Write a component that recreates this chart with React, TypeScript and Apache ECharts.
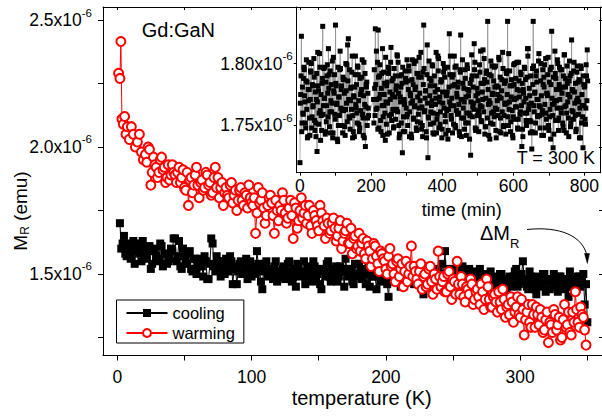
import React, { useEffect, useRef } from 'react';
import * as echarts from 'echarts';

const FONT = 'Liberation Sans, Arial, Helvetica, sans-serif';

// ---- main plot: remanent moment M_R (in units of 1e-6 emu) vs temperature (K)
// cooling run, even temperatures
const coolingT = [
  2, 4, 6, 8, 10, 12, 14, 16, 18, 20,
  22, 24, 26, 28, 30, 32, 34, 36, 38, 40,
  42, 44, 46, 48, 50, 52, 54, 56, 58, 60,
  62, 64, 66, 68, 70, 72, 74, 76, 78, 80,
  82, 84, 86, 88, 90, 92, 94, 96, 98, 100,
  102, 104, 106, 108, 110, 112, 114, 116, 118, 120,
  122, 124, 126, 128, 130, 132, 134, 136, 138, 140,
  142, 144, 146, 148, 150, 152, 154, 156, 158, 160,
  162, 164, 166, 168, 170, 172, 174, 176, 178, 180,
  182, 184, 186, 188, 190, 192, 194, 196, 198, 200,
  202, 204, 206, 208, 210, 212, 214, 216, 218, 220,
  222, 224, 226, 228, 230, 232, 234, 236, 238, 240,
  242, 244, 246, 248, 250, 252, 254, 256, 258, 260,
  262, 264, 266, 268, 270, 272, 274, 276, 278, 280,
  282, 284, 286, 288, 290, 292, 294, 296, 298, 300,
  302, 304, 306, 308, 310, 312, 314, 316, 318, 320,
  322, 324, 326, 328, 330, 332, 334, 336, 338, 340,
  342, 344, 346, 348, 350,
];
const coolingM = [
  1.70, 1.62, 1.58, 1.61, 1.56, 1.63, 1.59, 1.62, 1.55, 1.60,
  1.57, 1.61, 1.54, 1.59, 1.56, 1.62, 1.53, 1.58, 1.55, 1.60,
  1.64, 1.55, 1.63, 1.52, 1.57, 1.54, 1.59, 1.51, 1.56, 1.53,
  1.56, 1.49, 1.55, 1.48, 1.64, 1.53, 1.57, 1.52, 1.55, 1.50,
  1.54, 1.57, 1.46, 1.53, 1.51, 1.55, 1.50, 1.56, 1.52, 1.49,
  1.53, 1.59, 1.51, 1.44, 1.54, 1.50, 1.52, 1.48, 1.55, 1.51,
  1.49, 1.53, 1.50, 1.55, 1.47, 1.52, 1.54, 1.49, 1.51, 1.46,
  1.53, 1.50, 1.55, 1.48, 1.52, 1.44, 1.51, 1.54, 1.49, 1.52,
  1.50, 1.47, 1.53, 1.51, 1.56, 1.49, 1.52, 1.46, 1.50, 1.54,
  1.48, 1.52, 1.50, 1.45, 1.53, 1.49, 1.51, 1.47, 1.52, 1.50,
  1.41, 1.49, 1.53, 1.48, 1.51, 1.46, 1.50, 1.54, 1.47, 1.52,
  1.49, 1.51, 1.46, 1.42, 1.50, 1.53, 1.48, 1.52, 1.47, 1.50,
  1.54, 1.59, 1.49, 1.46, 1.52, 1.48, 1.51, 1.45, 1.50, 1.47,
  1.52, 1.48, 1.45, 1.50, 1.52, 1.47, 1.43, 1.49, 1.51, 1.46,
  1.48, 1.44, 1.50, 1.47, 1.42, 1.49, 1.46, 1.51, 1.45, 1.48,
  1.55, 1.47, 1.44, 1.49, 1.46, 1.42, 1.48, 1.45, 1.50, 1.47,
  1.44, 1.48, 1.46, 1.43, 1.49, 1.47, 1.45, 1.41, 1.48, 1.46,
  1.44, 1.49, 1.47, 1.38, 1.31,
];
// cooling run, odd temperatures
const coolingOddT = [
  3, 5, 7, 9, 11, 13, 15, 17, 19, 21,
  23, 25, 27, 29, 31, 33, 35, 37, 39, 41,
  43, 45, 47, 49, 51, 53, 55, 57, 59, 61,
  63, 65, 67, 69, 71, 73, 75, 77, 79, 81,
  83, 85, 87, 89, 91, 93, 95, 97, 99, 101,
  103, 105, 107, 109, 111, 113, 115, 117, 119, 121,
  123, 125, 127, 129, 131, 133, 135, 137, 139, 141,
  143, 145, 147, 149, 151, 153, 155, 157, 159, 161,
  163, 165, 167, 169, 171, 173, 175, 177, 179, 181,
  183, 185, 187, 189, 191, 193, 195, 197, 199, 201,
  203, 205, 207, 209, 211, 213, 215, 217, 219, 221,
  223, 225, 227, 229, 231, 233, 235, 237, 239, 241,
  243, 245, 247, 249, 251, 253, 255, 257, 259, 261,
  263, 265, 267, 269, 271, 273, 275, 277, 279, 281,
  283, 285, 287, 289, 291, 293, 295, 297, 299, 301,
  303, 305, 307, 309, 311, 313, 315, 317, 319, 321,
  323, 325, 327, 329, 331, 333, 335, 337, 339, 341,
  343, 345, 347, 349,
];
const coolingOddM = [
  1.60, 1.65, 1.57, 1.62, 1.59, 1.54, 1.61, 1.58, 1.63, 1.56,
  1.59, 1.52, 1.60, 1.57, 1.55, 1.61, 1.58, 1.54, 1.56, 1.59,
  1.64, 1.57, 1.53, 1.60, 1.55, 1.58, 1.52, 1.56, 1.50, 1.55,
  1.53, 1.57, 1.48, 1.54, 1.62, 1.51, 1.55, 1.49, 1.53, 1.56,
  1.51, 1.55, 1.52, 1.46, 1.54, 1.50, 1.53, 1.48, 1.55, 1.52,
  1.50, 1.54, 1.47, 1.52, 1.55, 1.49, 1.51, 1.53, 1.47, 1.50,
  1.52, 1.48, 1.54, 1.51, 1.49, 1.45, 1.53, 1.50, 1.55, 1.49,
  1.51, 1.47, 1.53, 1.50, 1.46, 1.52, 1.49, 1.55, 1.47, 1.51,
  1.53, 1.49, 1.51, 1.45, 1.52, 1.50, 1.47, 1.54, 1.49, 1.51,
  1.50, 1.46, 1.53, 1.49, 1.51, 1.44, 1.50, 1.52, 1.48, 1.46,
  1.50, 1.47, 1.52, 1.49, 1.45, 1.51, 1.48, 1.53, 1.50, 1.46,
  1.51, 1.48, 1.44, 1.50, 1.47, 1.52, 1.49, 1.45, 1.51, 1.48,
  1.50, 1.47, 1.52, 1.49, 1.46, 1.51, 1.48, 1.53, 1.45, 1.49,
  1.47, 1.51, 1.48, 1.44, 1.49, 1.46, 1.50, 1.47, 1.45, 1.49,
  1.46, 1.50, 1.47, 1.43, 1.48, 1.45, 1.49, 1.52, 1.46, 1.50,
  1.48, 1.45, 1.51, 1.47, 1.44, 1.49, 1.46, 1.50, 1.43, 1.48,
  1.47, 1.50, 1.45, 1.49, 1.46, 1.44, 1.48, 1.51, 1.45, 1.47,
  1.49, 1.45, 1.50, 1.46,
];
// warming run, odd temperatures (plus the lowest-T points)
const warmingT = [
  1, 2, 2.7, 3.5, 4.5, 5.5, 6.5, 7.5, 9, 10.5, 12, 13.5, 15, 16.5, 18, 19.5,
  21, 23, 25, 27, 29, 31, 33, 35, 37, 39,
  41, 43, 45, 47, 49, 51, 53, 55, 57, 59,
  61, 63, 65, 67, 69, 71, 73, 75, 77, 79,
  81, 83, 85, 87, 89, 91, 93, 95, 97, 99,
  101, 103, 105, 107, 109, 111, 113, 115, 117, 119,
  121, 123, 125, 127, 129, 131, 133, 135, 137, 139,
  141, 143, 145, 147, 149, 151, 153, 155, 157, 159,
  161, 163, 165, 167, 169, 171, 173, 175, 177, 179,
  181, 183, 185, 187, 189, 191, 193, 195, 197, 199,
  201, 203, 205, 207, 209, 211, 213, 215, 217, 219,
  221, 223, 225, 227, 229, 231, 233, 235, 237, 239,
  241, 243, 245, 247, 249, 251, 253, 255, 257, 259,
  261, 263, 265, 267, 269, 271, 273, 275, 277, 279,
  281, 283, 285, 287, 289, 291, 293, 295, 297, 299,
  301, 303, 305, 307, 309, 311, 313, 315, 317, 319,
  321, 323, 325, 327, 329, 331, 333, 335, 337, 339,
  341, 343, 345, 347, 349,
];
const warmingM = [
  2.29, 2.27, 2.415, 2.11, 2.09, 2.12, 2.05, 2.08, 2.03, 2.08, 2.05, 2.00, 2.02, 2.05, 1.98, 1.95,
  1.97, 2.00, 1.85, 1.96, 1.92, 1.90, 1.96, 1.92, 1.88, 1.87,
  1.93, 1.89, 1.90, 1.86, 1.91, 1.83, 1.77, 1.88, 1.85, 1.92,
  1.80, 1.87, 1.84, 1.89, 1.86, 1.82, 1.92, 1.88, 1.84, 1.77,
  1.84, 1.80, 1.86, 1.81, 1.75, 1.83, 1.79, 1.82, 1.76, 1.80,
  1.77, 1.66, 1.84, 1.79, 1.76, 1.73, 1.80, 1.78, 1.66, 1.75,
  1.77, 1.82, 1.74, 1.72, 1.79, 1.64, 1.76, 1.71, 1.80, 1.74,
  1.70, 1.77, 1.66, 1.73, 1.69, 1.77, 1.71, 1.64, 1.70, 1.67,
  1.72, 1.63, 1.68, 1.60, 1.66, 1.70, 1.62, 1.58, 1.65, 1.61,
  1.59, 1.64, 1.56, 1.61, 1.53, 1.62, 1.57, 1.51, 1.58, 1.55,
  1.50, 1.60, 1.54, 1.47, 1.56, 1.52, 1.45, 1.55, 1.50, 1.61,
  1.53, 1.48, 1.51, 1.44, 1.50, 1.46, 1.53, 1.42, 1.48, 1.59,
  1.45, 1.49, 1.43, 1.51, 1.40, 1.47, 1.55, 1.42, 1.46, 1.39,
  1.44, 1.48, 1.38, 1.43, 1.41, 1.46, 1.36, 1.48, 1.40, 1.37,
  1.42, 1.35, 1.39, 1.44, 1.33, 1.38, 1.41, 1.31, 1.37, 1.34,
  1.40, 1.26, 1.35, 1.31, 1.38, 1.29, 1.34, 1.36, 1.27, 1.32,
  1.23, 1.30, 1.36, 1.28, 1.33, 1.25, 1.38, 1.30, 1.27, 1.35,
  1.43, 1.31, 1.37, 1.33, 1.22,
];
// warming run, even temperatures
const warmingEvenT = [
  22, 24, 26, 28, 30, 32, 34, 36, 38, 40,
  42, 44, 46, 48, 50, 52, 54, 56, 58, 60,
  62, 64, 66, 68, 70, 72, 74, 76, 78, 80,
  82, 84, 86, 88, 90, 92, 94, 96, 98, 100,
  102, 104, 106, 108, 110, 112, 114, 116, 118, 120,
  122, 124, 126, 128, 130, 132, 134, 136, 138, 140,
  142, 144, 146, 148, 150, 152, 154, 156, 158, 160,
  162, 164, 166, 168, 170, 172, 174, 176, 178, 180,
  182, 184, 186, 188, 190, 192, 194, 196, 198, 200,
  202, 204, 206, 208, 210, 212, 214, 216, 218, 220,
  222, 224, 226, 228, 230, 232, 234, 236, 238, 240,
  242, 244, 246, 248, 250, 252, 254, 256, 258, 260,
  262, 264, 266, 268, 270, 272, 274, 276, 278, 280,
  282, 284, 286, 288, 290, 292, 294, 296, 298, 300,
  302, 304, 306, 308, 310, 312, 314, 316, 318, 320,
  322, 324, 326, 328, 330, 332, 334, 336, 338, 340,
  342, 344, 346, 348,
];
const warmingEvenM = [
  1.94, 1.99, 1.90, 1.93, 1.88, 1.95, 1.91, 1.86, 1.93, 1.89,
  1.90, 1.86, 1.92, 1.88, 1.84, 1.90, 1.87, 1.82, 1.89, 1.85,
  1.86, 1.83, 1.90, 1.85, 1.81, 1.88, 1.84, 1.80, 1.86, 1.82,
  1.81, 1.85, 1.78, 1.83, 1.79, 1.84, 1.77, 1.81, 1.85, 1.78,
  1.80, 1.74, 1.78, 1.82, 1.70, 1.77, 1.81, 1.73, 1.79, 1.71,
  1.75, 1.79, 1.70, 1.76, 1.73, 1.78, 1.68, 1.75, 1.72, 1.77,
  1.73, 1.69, 1.75, 1.71, 1.67, 1.74, 1.69, 1.72, 1.66, 1.70,
  1.68, 1.65, 1.71, 1.63, 1.67, 1.62, 1.68, 1.64, 1.60, 1.66,
  1.62, 1.58, 1.63, 1.59, 1.56, 1.61, 1.54, 1.59, 1.56, 1.52,
  1.57, 1.53, 1.50, 1.55, 1.49, 1.54, 1.51, 1.47, 1.53, 1.49,
  1.51, 1.46, 1.54, 1.49, 1.45, 1.52, 1.47, 1.50, 1.44, 1.49,
  1.47, 1.43, 1.50, 1.45, 1.48, 1.42, 1.46, 1.49, 1.41, 1.45,
  1.42, 1.46, 1.40, 1.44, 1.38, 1.43, 1.40, 1.45, 1.37, 1.41,
  1.39, 1.43, 1.36, 1.40, 1.37, 1.34, 1.39, 1.35, 1.41, 1.33,
  1.36, 1.32, 1.38, 1.29, 1.34, 1.37, 1.30, 1.33, 1.28, 1.35,
  1.31, 1.27, 1.34, 1.30, 1.24, 1.32, 1.29, 1.35, 1.26, 1.31,
  1.36, 1.29, 1.34, 1.28,
];

// ---- inset: M_R (1e-6 emu) at T = 300 K vs time (min)
const insetTime = [
  0, 4, 8, 12, 16, 20, 24, 28, 32, 36, 40, 44, 48, 52, 56, 60, 64, 68, 72, 76,
  80, 84, 88, 92, 96, 100, 104, 108, 112, 116, 120, 124, 128, 132, 136, 140, 144, 148, 152, 156,
  160, 164, 168, 172, 176, 180, 184, 188, 192,
  208, 212, 216, 220, 224, 228, 232, 236, 240, 244, 248, 252, 256, 260, 264, 268, 272, 276, 280, 284,
  288, 292, 296, 300, 304, 308, 312, 316, 320, 324, 328, 332, 336, 340, 344, 348, 352, 356, 360, 364,
  368, 372, 376, 380, 384, 388, 392, 396, 400, 404, 408, 412, 416, 420, 424, 428, 432, 436, 440, 444,
  448, 452, 456, 460, 464, 468, 472, 476, 480, 484, 488, 492, 496, 500, 504, 508, 512, 516, 520, 524,
  528, 532, 536, 540, 544, 548, 552, 556, 560, 564, 568, 572, 576, 580, 584, 588, 592, 596, 600, 604,
  608, 612, 616, 620, 624, 628, 632, 636, 640, 644, 648, 652, 656, 660, 664, 668, 672, 676, 680, 684,
  688, 692, 696, 700, 704, 708, 712, 716, 720, 724, 728, 732, 736, 740, 744, 748, 752, 756, 760, 764,
  768, 772, 776, 780, 784, 788, 792, 796, 800, 804, 808,
];
const insetM = [
  1.720, 1.822, 1.760, 1.795, 1.748, 1.785, 1.770, 1.742, 1.800, 1.765, 1.789, 1.752, 1.729, 1.778, 1.797, 1.758, 1.830, 1.772, 1.745, 1.790,
  1.812, 1.761, 1.783, 1.740, 1.776, 1.831, 1.768, 1.750, 1.795, 1.779, 1.744, 1.787, 1.763, 1.799, 1.820, 1.756, 1.781, 1.740, 1.773, 1.806,
  1.760, 1.791, 1.748, 1.777, 1.759, 1.801, 1.733, 1.785, 1.764,
  1.752, 1.828, 1.771, 1.827, 1.790, 1.745, 1.812, 1.766, 1.738, 1.782, 1.797, 1.758, 1.813, 1.775, 1.749, 1.790, 1.763, 1.801, 1.743, 1.781,
  1.728, 1.770, 1.794, 1.757, 1.786, 1.741, 1.768, 1.803, 1.755, 1.779, 1.746, 1.792, 1.764, 1.809, 1.750, 1.831, 1.772, 1.740, 1.724, 1.788,
  1.761, 1.799, 1.752, 1.777, 1.744, 1.806, 1.769, 1.785, 1.747, 1.793, 1.758, 1.774, 1.739, 1.824, 1.766, 1.789, 1.751, 1.797, 1.762, 1.781,
  1.745, 1.823, 1.771, 1.756, 1.795, 1.742, 1.779, 1.760, 1.726, 1.790, 1.768, 1.801, 1.747, 1.776, 1.758, 1.810, 1.765, 1.784, 1.743, 1.792,
  1.834, 1.770, 1.752, 1.798, 1.761, 1.781, 1.740, 1.775, 1.803, 1.756, 1.787, 1.749, 1.768, 1.794, 1.834, 1.763, 1.745, 1.782, 1.757, 1.800,
  1.772, 1.748, 1.786, 1.761, 1.733, 1.779, 1.796, 1.754, 1.812, 1.767, 1.744, 1.731, 1.834, 1.776, 1.790, 1.758, 1.808, 1.765, 1.742, 1.783,
  1.799, 1.760, 1.774, 1.746, 1.795, 1.826, 1.732, 1.770, 1.788, 1.803, 1.756, 1.779, 1.795, 1.749, 1.807, 1.766, 1.784, 1.741, 1.790, 1.819,
  1.761, 1.777, 1.745, 1.798, 1.769, 1.786, 1.752, 1.732, 1.781, 1.764, 1.811,
];
const insetMidTime = [
  2, 6, 10, 14, 18, 22, 26, 30, 34, 38, 42, 46, 50, 54, 58, 62, 66, 70, 74, 78,
  82, 86, 90, 94, 98, 102, 106, 110, 114, 118, 122, 126, 130, 134, 138, 142, 146, 150, 154, 158,
  162, 166, 170, 174, 178, 182, 186, 190,
  210, 214, 218, 222, 226, 230, 234, 238, 242, 246, 250, 254, 258, 262, 266, 270, 274, 278, 282, 286,
  290, 294, 298, 302, 306, 310, 314, 318, 322, 326, 330, 334, 338, 342, 346, 350, 354, 358, 362, 366,
  370, 374, 378, 382, 386, 390, 394, 398, 402, 406, 410, 414, 418, 422, 426, 430, 434, 438, 442, 446,
  450, 454, 458, 462, 466, 470, 474, 478, 482, 486, 490, 494, 498, 502, 506, 510, 514, 518, 522, 526,
  530, 534, 538, 542, 546, 550, 554, 558, 562, 566, 570, 574, 578, 582, 586, 590, 594, 598, 602, 606,
  610, 614, 618, 622, 626, 630, 634, 638, 642, 646, 650, 654, 658, 662, 666, 670, 674, 678, 682, 686,
  690, 694, 698, 702, 706, 710, 714, 718, 722, 726, 730, 734, 738, 742, 746, 750, 754, 758, 762, 766,
  770, 774, 778, 782, 786, 790, 794, 798, 802, 806,
];
const insetMidM = [
  1.775, 1.752, 1.788, 1.769, 1.803, 1.741, 1.779, 1.794, 1.757, 1.782, 1.746, 1.771, 1.809, 1.760, 1.738, 1.784, 1.766, 1.797, 1.753, 1.776,
  1.791, 1.744, 1.768, 1.805, 1.759, 1.782, 1.737, 1.773, 1.796, 1.762, 1.787, 1.749, 1.778, 1.815, 1.757, 1.770, 1.793, 1.745, 1.781, 1.764,
  1.798, 1.751, 1.775, 1.789, 1.742, 1.767, 1.783, 1.756,
  1.780, 1.763, 1.801, 1.748, 1.775, 1.792, 1.757, 1.784, 1.769, 1.743, 1.796, 1.771, 1.754, 1.788, 1.762, 1.779, 1.806, 1.750, 1.773, 1.791,
  1.745, 1.767, 1.785, 1.759, 1.798, 1.776, 1.740, 1.783, 1.765, 1.802, 1.753, 1.789, 1.770, 1.747, 1.793, 1.761, 1.778, 1.815, 1.756, 1.782,
  1.766, 1.744, 1.790, 1.772, 1.759, 1.804, 1.751, 1.786, 1.768, 1.796, 1.743, 1.777, 1.763, 1.791, 1.755, 1.782, 1.806, 1.748, 1.773, 1.760,
  1.795, 1.741, 1.784, 1.769, 1.752, 1.799, 1.774, 1.758, 1.787, 1.765, 1.816, 1.746, 1.780, 1.762, 1.793, 1.754, 1.771, 1.804, 1.749, 1.785,
  1.767, 1.739, 1.790, 1.776, 1.757, 1.798, 1.763, 1.781, 1.745, 1.772, 1.809, 1.758, 1.786, 1.768, 1.750, 1.794, 1.773, 1.742, 1.783, 1.765,
  1.801, 1.755, 1.778, 1.791, 1.747, 1.769, 1.787, 1.760, 1.812, 1.774, 1.753, 1.796, 1.766, 1.744, 1.785, 1.771, 1.758, 1.800, 1.762, 1.789,
  1.748, 1.776, 1.805, 1.757, 1.783, 1.767, 1.743, 1.792, 1.770, 1.754, 1.797, 1.764, 1.781, 1.746, 1.788, 1.760, 1.775, 1.802, 1.752, 1.779,
  1.794, 1.758, 1.770, 1.785, 1.740, 1.798, 1.766, 1.783, 1.755, 1.790,
];
const insetOddTime = [
  1, 3, 5, 7, 9, 11, 13, 15, 17, 19, 21, 23, 25, 27, 29, 31, 33, 35, 37, 39,
  41, 43, 45, 47, 49, 51, 53, 55, 57, 59, 61, 63, 65, 67, 69, 71, 73, 75, 77, 79,
  81, 83, 85, 87, 89, 91, 93, 95, 97, 99, 101, 103, 105, 107, 109, 111, 113, 115, 117, 119,
  121, 123, 125, 127, 129, 131, 133, 135, 137, 139, 141, 143, 145, 147, 149, 151, 153, 155, 157, 159,
  161, 163, 165, 167, 169, 171, 173, 175, 177, 179, 181, 183, 185, 187, 189, 191, 193,
  207, 209, 211, 213, 215, 217, 219, 221, 223, 225, 227, 229, 231, 233, 235, 237, 239, 241, 243, 245,
  247, 249, 251, 253, 255, 257, 259, 261, 263, 265, 267, 269, 271, 273, 275, 277, 279, 281, 283, 285,
  287, 289, 291, 293, 295, 297, 299, 301, 303, 305, 307, 309, 311, 313, 315, 317, 319, 321, 323, 325,
  327, 329, 331, 333, 335, 337, 339, 341, 343, 345, 347, 349, 351, 353, 355, 357, 359, 361, 363, 365,
  367, 369, 371, 373, 375, 377, 379, 381, 383, 385, 387, 389, 391, 393, 395, 397, 399, 401, 403, 405,
  407, 409, 411, 413, 415, 417, 419, 421, 423, 425, 427, 429, 431, 433, 435, 437, 439, 441, 443, 445,
  447, 449, 451, 453, 455, 457, 459, 461, 463, 465, 467, 469, 471, 473, 475, 477, 479, 481, 483, 485,
  487, 489, 491, 493, 495, 497, 499, 501, 503, 505, 507, 509, 511, 513, 515, 517, 519, 521, 523, 525,
  527, 529, 531, 533, 535, 537, 539, 541, 543, 545, 547, 549, 551, 553, 555, 557, 559, 561, 563, 565,
  567, 569, 571, 573, 575, 577, 579, 581, 583, 585, 587, 589, 591, 593, 595, 597, 599, 601, 603, 605,
  607, 609, 611, 613, 615, 617, 619, 621, 623, 625, 627, 629, 631, 633, 635, 637, 639, 641, 643, 645,
  647, 649, 651, 653, 655, 657, 659, 661, 663, 665, 667, 669, 671, 673, 675, 677, 679, 681, 683, 685,
  687, 689, 691, 693, 695, 697, 699, 701, 703, 705, 707, 709, 711, 713, 715, 717, 719, 721, 723, 725,
  727, 729, 731, 733, 735, 737, 739, 741, 743, 745, 747, 749, 751, 753, 755, 757, 759, 761, 763, 765,
  767, 769, 771, 773, 775, 777, 779, 781, 783, 785, 787, 789, 791, 793, 795, 797, 799, 801, 803, 805,
  807, 809,
];
const insetOddM = [
  1.768, 1.790, 1.745, 1.781, 1.759, 1.797, 1.774, 1.752, 1.786, 1.763, 1.740, 1.779, 1.801, 1.756, 1.771, 1.793, 1.748, 1.783, 1.766, 1.804,
  1.754, 1.777, 1.741, 1.792, 1.769, 1.782, 1.751, 1.808, 1.762, 1.775, 1.746, 1.788, 1.759, 1.796, 1.772, 1.743, 1.785, 1.766, 1.799, 1.757,
  1.780, 1.749, 1.794, 1.770, 1.761, 1.802, 1.744, 1.778, 1.791, 1.755, 1.784, 1.767, 1.739, 1.797, 1.773, 1.758, 1.810, 1.764, 1.782, 1.750,
  1.789, 1.762, 1.776, 1.742, 1.800, 1.768, 1.753, 1.786, 1.771, 1.795, 1.747, 1.780, 1.763, 1.806, 1.758, 1.774, 1.741, 1.791, 1.767, 1.783,
  1.752, 1.797, 1.770, 1.745, 1.788, 1.762, 1.779, 1.803, 1.756, 1.774, 1.740, 1.792, 1.765, 1.781, 1.750, 1.776, 1.758,
  1.771, 1.795, 1.758, 1.783, 1.810, 1.764, 1.747, 1.789, 1.772, 1.799, 1.754, 1.780, 1.766, 1.742, 1.793, 1.775, 1.760, 1.805, 1.751, 1.785,
  1.768, 1.792, 1.744, 1.777, 1.801, 1.759, 1.786, 1.763, 1.748, 1.796, 1.773, 1.755, 1.782, 1.807, 1.761, 1.776, 1.740, 1.790, 1.769, 1.752,
  1.784, 1.797, 1.757, 1.771, 1.745, 1.788, 1.764, 1.803, 1.750, 1.779, 1.794, 1.761, 1.774, 1.743, 1.787, 1.770, 1.756, 1.800, 1.766, 1.781,
  1.748, 1.792, 1.773, 1.759, 1.805, 1.776, 1.752, 1.789, 1.765, 1.741, 1.783, 1.796, 1.762, 1.778, 1.745, 1.791, 1.768, 1.757, 1.802, 1.774,
  1.751, 1.786, 1.770, 1.798, 1.760, 1.743, 1.782, 1.767, 1.809, 1.755, 1.779, 1.794, 1.748, 1.773, 1.761, 1.787, 1.740, 1.777, 1.800, 1.764,
  1.789, 1.753, 1.775, 1.762, 1.797, 1.746, 1.781, 1.769, 1.806, 1.758, 1.772, 1.744, 1.791, 1.766, 1.783, 1.750, 1.798, 1.776, 1.759, 1.785,
  1.767, 1.742, 1.793, 1.771, 1.756, 1.803, 1.764, 1.780, 1.747, 1.788, 1.773, 1.760, 1.796, 1.752, 1.778, 1.739, 1.784, 1.769, 1.807, 1.757,
  1.781, 1.763, 1.795, 1.748, 1.774, 1.790, 1.758, 1.770, 1.745, 1.799, 1.766, 1.784, 1.753, 1.777, 1.811, 1.761, 1.787, 1.749, 1.772, 1.794,
  1.756, 1.779, 1.742, 1.791, 1.768, 1.802, 1.760, 1.775, 1.751, 1.786, 1.797, 1.764, 1.746, 1.782, 1.770, 1.758, 1.805, 1.773, 1.789, 1.744,
  1.778, 1.761, 1.796, 1.750, 1.784, 1.767, 1.743, 1.792, 1.775, 1.757, 1.808, 1.769, 1.782, 1.753, 1.787, 1.762, 1.740, 1.799, 1.771, 1.755,
  1.788, 1.765, 1.779, 1.747, 1.801, 1.773, 1.759, 1.793, 1.766, 1.784, 1.741, 1.776, 1.797, 1.760, 1.772, 1.750, 1.789, 1.806, 1.763, 1.780,
  1.754, 1.790, 1.768, 1.745, 1.783, 1.798, 1.761, 1.777, 1.752, 1.794, 1.771, 1.757, 1.802, 1.766, 1.748, 1.786, 1.774, 1.759, 1.795, 1.742,
  1.781, 1.767, 1.804, 1.755, 1.776, 1.791, 1.750, 1.785, 1.763, 1.739, 1.797, 1.772, 1.758, 1.789, 1.768, 1.810, 1.754, 1.779, 1.764, 1.800,
  1.746, 1.783, 1.771, 1.795, 1.760, 1.776, 1.752, 1.790, 1.807, 1.765, 1.781, 1.744, 1.798, 1.769, 1.756, 1.786, 1.773, 1.749, 1.792, 1.762,
  1.778, 1.755, 1.801, 1.768, 1.784, 1.747, 1.793, 1.772, 1.759, 1.787, 1.764, 1.740, 1.796, 1.775, 1.757, 1.790, 1.766, 1.782, 1.751, 1.799,
  1.770, 1.786,
];

// ---- ticks and labels
const tempTicks = [0, 50, 100, 150, 200, 250, 300, 350];
const tempLabels = [0, 100, 200, 300];
const mTicks = [1.25, 1.5, 1.75, 2.0, 2.25, 2.5];
const mLabels = [1.5, 2.0, 2.5];
const timeTicks = [0, 100, 200, 300, 400, 500, 600, 700, 800];
const timeLabels = [0, 200, 400, 600, 800];
const insetMTicks = [1.75, 1.8];

const BLACK = '#000';
const RED = '#ff0000';

function merged(parts: [number[], number[]][]) {
  const pts: number[][] = [];
  parts.forEach(([xs, ys]) => xs.forEach((x, i) => pts.push([x, ys[i]])));
  pts.sort((p, q) => p[0] - q[0]);
  return pts;
}

const supRich = {
  a: { fontSize: 17.5, fontFamily: FONT, color: BLACK },
  s: { fontSize: 11.5, fontFamily: FONT, color: BLACK, padding: [0, 0, 15, 0] },
};

export default function App() {
  const ref = useRef<HTMLDivElement>(null);
  useEffect(() => {
    if (!ref.current) return;
    const chart = echarts.init(ref.current, undefined, { renderer: 'svg' });
    const axisLine = { show: true, onZero: false, lineStyle: { color: BLACK, width: 1 } };
    const option: any = {
      animation: false,
      backgroundColor: '#fff',
      textStyle: { fontFamily: FONT },
      grid: [
        { left: 103, top: 7, width: 502, height: 348.5 },
        { left: 296.7, top: 7, width: 306.3, height: 165.7 },
      ],
      xAxis: [
        {
          gridIndex: 0, type: 'value', position: 'bottom', min: -10.6, max: 360.9,
          axisLine, splitLine: { show: false },
          axisTick: { show: true, customValues: tempTicks, length: 5, lineStyle: { color: BLACK } },
          axisLabel: { customValues: tempLabels, fontSize: 17.5, fontFamily: FONT, color: BLACK, margin: 12 },
        },
        {
          gridIndex: 0, type: 'value', position: 'top', min: -10.6, max: 360.9,
          axisLine, splitLine: { show: false },
          axisTick: { show: true, inside: true, customValues: tempTicks, length: 3, lineStyle: { color: BLACK } },
          axisLabel: { show: false },
        },
        {
          gridIndex: 1, type: 'value', position: 'bottom', min: -9.2, max: 845.5,
          axisLine, splitLine: { show: false },
          axisTick: { show: true, customValues: timeTicks, length: 3, lineStyle: { color: BLACK } },
          axisLabel: { customValues: timeLabels, fontSize: 17.5, fontFamily: FONT, color: BLACK, margin: 4.5 },
        },
        {
          gridIndex: 1, type: 'value', position: 'top', min: -9.2, max: 845.5,
          axisLine, splitLine: { show: false },
          axisTick: { show: true, inside: true, customValues: timeTicks, length: 3, lineStyle: { color: BLACK } },
          axisLabel: { show: false },
        },
      ],
      yAxis: [
        {
          gridIndex: 0, type: 'value', position: 'left', min: 1.1791, max: 2.5512,
          axisLine, splitLine: { show: false },
          axisTick: { show: true, customValues: mTicks, length: 5, lineStyle: { color: BLACK } },
          axisLabel: {
            customValues: mLabels, margin: 11,
            formatter: (v: number) => `{a|${v.toFixed(1)}x10}{s|-6}`,
            rich: supRich,
          },
        },
        {
          gridIndex: 0, type: 'value', position: 'right', min: 1.1791, max: 2.5512,
          axisLine, splitLine: { show: false },
          axisTick: { show: true, inside: true, customValues: mTicks, length: 3 },
          axisLabel: { show: false },
        },
        {
          gridIndex: 1, type: 'value', position: 'left', min: 1.7119, max: 1.8456,
          axisLine, splitLine: { show: false },
          axisTick: { show: true, customValues: insetMTicks, length: 3, lineStyle: { color: BLACK } },
          axisLabel: {
            customValues: insetMTicks, margin: 4,
            formatter: (v: number) => `{a|${v.toFixed(2)}x10}{s|-6}`,
            rich: supRich,
          },
        },
        {
          gridIndex: 1, type: 'value', position: 'right', min: 1.7119, max: 1.8456,
          axisLine, splitLine: { show: false },
          axisTick: { show: true, inside: true, customValues: insetMTicks, length: 3, lineStyle: { color: BLACK } },
          axisLabel: { show: false },
        },
      ],
      legend: {
        data: ['cooling', 'warming'],
        selectedMode: false,
        orient: 'vertical',
        left: 116.5,
        top: 300,
        itemWidth: 41,
        itemHeight: 10,
        itemGap: 2,
        padding: [4, 9, 1, 9],
        borderColor: BLACK,
        borderWidth: 1,
        borderRadius: 0,
        backgroundColor: '#fff',
        textStyle: { fontSize: 16.5, fontFamily: FONT, color: BLACK, lineHeight: 18 },
      },
      series: [
        {
          name: 'cooling', type: 'line', xAxisIndex: 0, yAxisIndex: 0,
          data: merged([[coolingT, coolingM], [coolingOddT, coolingOddM]]),
          symbol: 'rect', symbolSize: 8,
          itemStyle: { color: BLACK },
          lineStyle: { color: BLACK, width: 1 },
          z: 2,
        },
        {
          name: 'warming', type: 'line', xAxisIndex: 0, yAxisIndex: 0,
          data: merged([[warmingT, warmingM], [warmingEvenT, warmingEvenM]]),
          symbol: 'emptyCircle', symbolSize: 9,
          itemStyle: { color: RED, borderColor: RED, borderWidth: 1 },
          lineStyle: { color: RED, width: 1 },
          z: 3,
        },
        {
          name: 'inset', type: 'line', xAxisIndex: 2, yAxisIndex: 2,
          data: merged([[insetTime, insetM], [insetMidTime, insetMidM], [insetOddTime, insetOddM]]),
          symbol: 'rect', symbolSize: 5,
          itemStyle: { color: BLACK },
          lineStyle: { color: '#888', width: 0.7 },
          z: 2,
        },
      ],
      graphic: [
        {
          type: 'text', x: 141.7, y: 30,
          style: { text: 'Gd:GaN', fontSize: 20, fontFamily: FONT, fill: BLACK, align: 'left', verticalAlign: 'middle', textAlign: 'left', textVerticalAlign: 'middle' },
        },
        {
          type: 'text', x: 516.7, y: 157.5,
          style: { text: 'T = 300 K', fontSize: 18, fontFamily: FONT, fill: BLACK, align: 'left', verticalAlign: 'middle', textAlign: 'left', textVerticalAlign: 'middle' },
        },
        {
          type: 'text', x: 461.7, y: 209.5,
          style: { text: 'time (min)', fontSize: 18, fontFamily: FONT, fill: BLACK, align: 'center', verticalAlign: 'middle', textAlign: 'center', textVerticalAlign: 'middle' },
        },
        {
          type: 'text', x: 361.7, y: 398,
          style: { text: 'temperature (K)', fontSize: 20, fontFamily: FONT, fill: BLACK, align: 'center', verticalAlign: 'middle', textAlign: 'center', textVerticalAlign: 'middle' },
        },
        {
          type: 'text', x: 20, y: 211, rotation: Math.PI / 2,
          style: {
            text: '{a|M}{s|R}{a| (emu)}',
            align: 'center', verticalAlign: 'middle', textAlign: 'center', textVerticalAlign: 'middle',
            rich: {
              a: { fontSize: 19, fontFamily: FONT, fill: BLACK, color: BLACK },
              s: { fontSize: 12, fontFamily: FONT, fill: BLACK, color: BLACK, padding: [9, 0, 0, 0] },
            },
          },
        },
        {
          type: 'text', x: 480, y: 233,
          style: {
            text: '{a|\u0394M}{s|R}',
            align: 'left', verticalAlign: 'middle', textAlign: 'left', textVerticalAlign: 'middle',
            rich: {
              a: { fontSize: 20, fontFamily: FONT, fill: BLACK, color: BLACK },
              s: { fontSize: 13, fontFamily: FONT, fill: BLACK, color: BLACK, padding: [20, 0, 0, 0] },
            },
          },
        },
        {
          type: 'bezierCurve',
          shape: { x1: 527, y1: 229.5, cpx1: 560, cpy1: 226, cpx2: 583, cpy2: 236, x2: 587, y2: 256 },
          style: { stroke: BLACK, lineWidth: 1, fill: null },
        },
        {
          type: 'polygon',
          shape: { points: [[584.5, 253.5], [589.5, 253.5], [587.3, 263.5]] },
          style: { fill: BLACK, stroke: BLACK, lineWidth: 0.5 },
        },
      ],
    };
    chart.setOption(option);
    return () => chart.dispose();
  }, []);
  return <div ref={ref} style={{ position: 'fixed', left: 0, top: 0, width: 602, height: 416 }} />;
}
